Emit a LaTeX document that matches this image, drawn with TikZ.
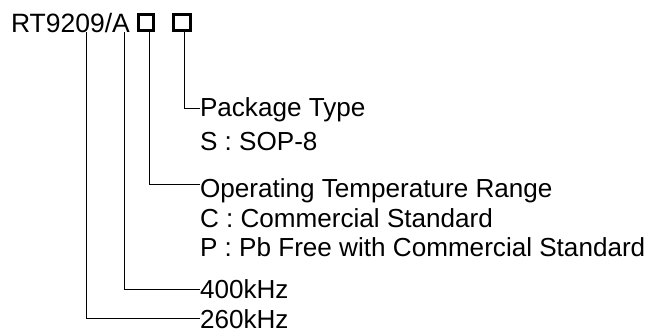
\documentclass[tikz,border=0pt]{standalone}
\usepackage{fontspec}
\setmainfont{Liberation Sans}
\begin{document}
\begin{tikzpicture}[x=1pt,y=-1pt,
  lbl/.style={anchor=base west,inner sep=0pt,outer sep=0pt,font=\fontsize{26.1}{30}\selectfont},
  ttl/.style={anchor=base west,inner sep=0pt,outer sep=0pt,font=\fontsize{26.5}{30}\selectfont},
  conn/.style={draw=black,line width=0.9pt},
  boxmark/.style={draw=black,line width=3pt}]
\useasboundingbox (0,0) rectangle (658,335);
\node[ttl] (title) at (11,32) {RT9209/A};
\draw[boxmark] (138.2,14.8) rectangle (153.5,30.8);
\draw[boxmark] (173.8,14.8) rectangle (190.8,30.8);
\coordinate (b1) at (149.5,32.3);
\coordinate (b2) at (184,32.3);
\coordinate (t1) at (86,32);
\coordinate (t2) at (124,32);
\node[lbl] (pkg) at (200,116.7) {Package Type};
\node[lbl] (sop) at (200,150) {S : SOP-8};
\node[lbl] (otr) at (200,197.3) {Operating Temperature Range};
\node[lbl] (com) at (200,227) {C : Commercial Standard};
\node[lbl] (pbf) at (200,256.7) {P : Pb Free with Commercial Standard};
\node[lbl] (f400) at (200,298.3) {400kHz};
\node[lbl] (f260) at (200,328.3) {260kHz};
\draw[conn] (b2) |- (200,108.3);
\draw[conn] (b1) |- (200,184.5);
\draw[conn] (t2) |- (200,289.3);
\draw[conn] (t1) |- (200,318);
\end{tikzpicture}
\end{document}
